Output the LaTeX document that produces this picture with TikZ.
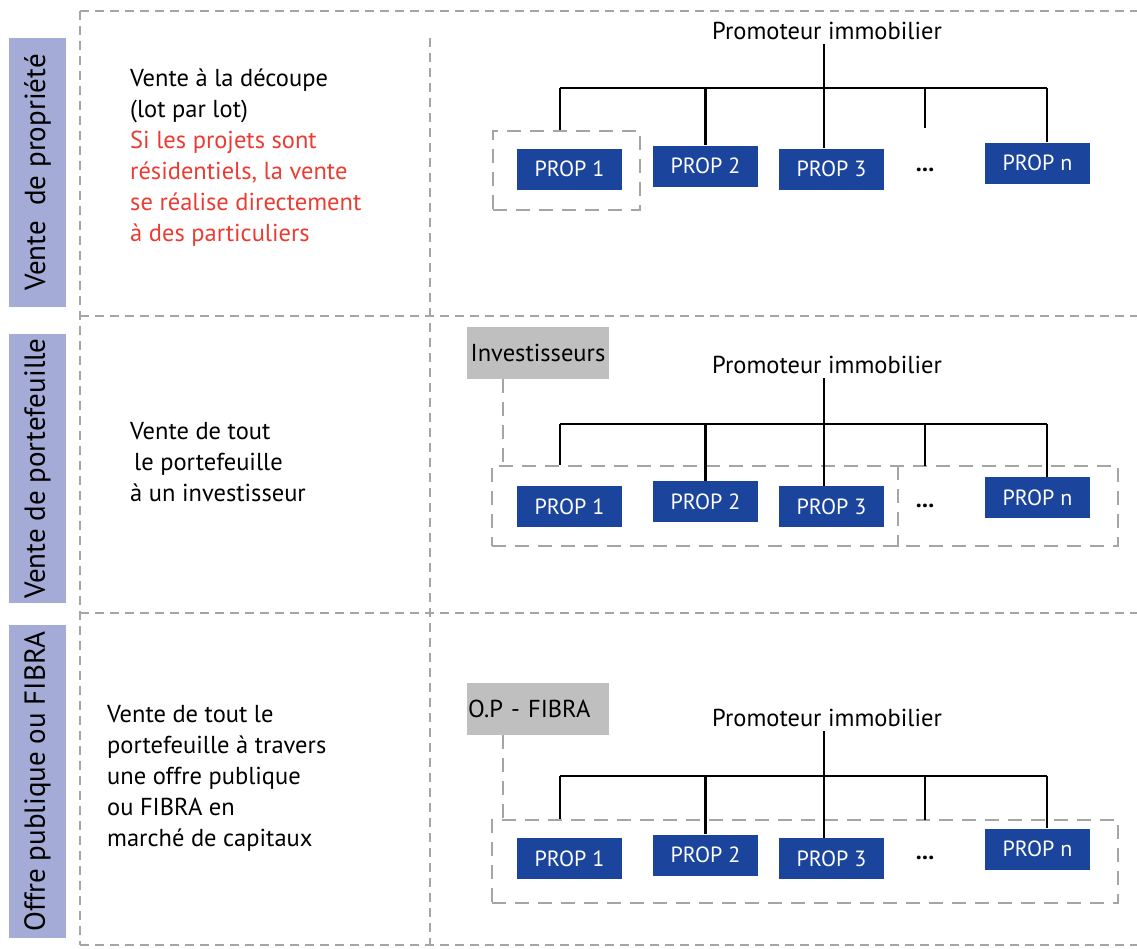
\documentclass[tikz,border=0pt]{standalone}
\usepackage{fontspec}
\setmainfont{PT Sans}
\definecolor{propblue}{RGB}{27,68,156}
\definecolor{labelblue}{RGB}{164,171,214}
\definecolor{greybox}{RGB}{191,191,191}
\definecolor{dashgrey}{RGB}{165,165,165}
\definecolor{redtxt}{RGB}{234,60,50}
\tikzset{
  prop/.style={fill=propblue, text=white, minimum width=105pt, minimum height=41pt, inner sep=0pt, font=\fontsize{22}{26}\selectfont},
  sidelabel/.style={fill=labelblue, minimum height=57pt, inner sep=0pt, rotate=90, font=\fontsize{29}{33}\selectfont},
  greylabel/.style={fill=greybox, minimum width=142pt, minimum height=52pt, inner sep=1pt, font=\fontsize{24.5}{28}\selectfont},
  promtext/.style={inner sep=0pt, font=\fontsize{24.5}{28}\selectfont},
  desc/.style={inner sep=0pt, anchor=west, align=left, font=\fontsize{24.5}{31}\selectfont},
  dotstext/.style={inner sep=0pt, font=\fontsize{24}{28}\selectfont\bfseries},
  griddash/.style={draw=dashgrey, line width=1.8pt, dash pattern=on 9pt off 6pt},
  groupbox/.style={draw=dashgrey, line width=2.5pt, dash pattern=on 14pt off 9pt, inner sep=0pt},
  tree/.style={draw=black, line width=2.5pt}
}
\begin{document}
\begin{tikzpicture}[x=1pt,y=-1pt]
\useasboundingbox (0,0) rectangle (1137,948);
% grid
\draw[griddash] (80,11) -- (1137,11);
\draw[griddash] (80,316) -- (1137,316);
\draw[griddash] (80,613) -- (1137,613);
\draw[griddash] (80,945) -- (1137,945);
\draw[griddash] (80,11) -- (80,945);
\draw[griddash] (430,38) -- (430,945);
% side labels
\node[sidelabel, minimum width=269pt] (lab1) at (37.5,172.5) {Vente\ \ de propriété};
\node[sidelabel, minimum width=269pt] (lab2) at (37.5,468.5) {Vente de portefeuille};
\node[sidelabel, minimum width=313pt] (lab3) at (37.5,781.5) {Offre publique ou FIBRA};
% descriptions
\node[desc] (desc1) at (130,158) {Vente à la découpe\\(lot par lot)\\\textcolor{redtxt}{Si les projets sont}\\\textcolor{redtxt}{résidentiels, la vente}\\\textcolor{redtxt}{se réalise directement}\\\textcolor{redtxt}{à des particuliers}};
\node[desc] (desc2) at (130,462) {Vente de tout\\\hspace*{4pt}le portefeuille\\à un investisseur};
\node[desc] (desc3) at (107,778) {Vente de tout le\\portefeuille à travers\\une offre publique\\ou FIBRA en\\marché de capitaux};

% ---------- section 1 ----------
\node[promtext] (prom1) at (827,31) {Promoteur immobilier};
\node[groupbox, draw, minimum width=147pt, minimum height=79pt] (g1) at (566.5,170.5) {};
\node[prop] (a1) at (569.5,169) {PROP 1};
\node[prop] (a2) at (705.5,166) {PROP 2};
\node[prop] (a3) at (831.5,169) {PROP 3};
\node[dotstext] (a4) at (925,170) {...};
\node[prop] (a5) at (1037.5,163) {PROP n};
\coordinate (j1) at (824,88);
\coordinate (bl1) at (560,88);
\coordinate (br1) at (1047,88);
\coordinate (d1) at (925,128);
\draw[tree] (j1 |- prom1.south) ++(0,4) -- (j1);
\draw[tree] (bl1) -- (br1);
\draw[tree] (bl1) -- (bl1 |- g1.north);
\draw[tree] (a2.north |- bl1) -- (a2.north);
\draw[tree] (j1) -- (j1 |- a3.north);
\draw[tree] (d1 |- bl1) -- (d1);
\draw[tree] (br1) -- (br1 |- a5.north);

% ---------- section 2 ----------
\node[greylabel] (inv) at (538,353) {Investisseurs};
\node[promtext] (prom2) at (827,365) {Promoteur immobilier};
\node[groupbox, draw, minimum width=626pt, minimum height=80pt] (g2) at (805,506) {};
\coordinate (div2) at (898,466);
\draw[groupbox] (div2) -- (div2 |- g2.south);
\node[prop] (b1) at (569.5,506.5) {PROP 1};
\node[prop] (b2) at (705.5,501.5) {PROP 2};
\node[prop] (b3) at (831.5,506.5) {PROP 3};
\node[dotstext] (b4) at (925,506) {...};
\node[prop] (b5) at (1037.5,497.5) {PROP n};
\coordinate (j2) at (824,424);
\coordinate (bl2) at (560,424);
\coordinate (br2) at (1047,424);
\coordinate (d2) at (925,466);
\coordinate (v2) at (503,379);
\draw[groupbox] (v2) -- (v2 |- g2.north);
\draw[tree] (j2 |- prom2.south) ++(0,4) -- (j2);
\draw[tree] (bl2) -- (br2);
\draw[tree] (bl2) -- (bl2 |- g2.north);
\draw[tree] (b2.north |- bl2) -- (b2.north);
\draw[tree] (j2) -- (j2 |- b3.north);
\draw[tree] (d2 |- bl2) -- (d2);
\draw[tree] (br2) -- (br2 |- b5.north);

% ---------- section 3 ----------
\node[greylabel, text width=140pt, align=left] (opf) at (538,709) {O.P - FIBRA};
\node[promtext] (prom3) at (827,718) {Promoteur immobilier};
\node[groupbox, draw, minimum width=626pt, minimum height=83pt] (g3) at (805,861.5) {};
\node[prop] (c1) at (569.5,858.5) {PROP 1};
\node[prop] (c2) at (705.5,855) {PROP 2};
\node[prop] (c3) at (831.5,858.5) {PROP 3};
\node[dotstext] (c4) at (925,858) {...};
\node[prop] (c5) at (1037.5,849) {PROP n};
\coordinate (j3) at (824,776);
\coordinate (bl3) at (560,776);
\coordinate (br3) at (1047,776);
\coordinate (d3) at (925,820);
\coordinate (v3) at (503,735);
\draw[groupbox] (v3) -- (v3 |- g3.north);
\draw[tree] (j3 |- prom3.south) ++(0,4) -- (j3);
\draw[tree] (bl3) -- (br3);
\draw[tree] (bl3) -- (bl3 |- g3.north);
\draw[tree] (c2.north |- bl3) -- (c2.north);
\draw[tree] (j3) -- (j3 |- c3.north);
\draw[tree] (d3 |- bl3) -- (d3);
\draw[tree] (br3) -- (br3 |- c5.north);
\end{tikzpicture}
\end{document}
